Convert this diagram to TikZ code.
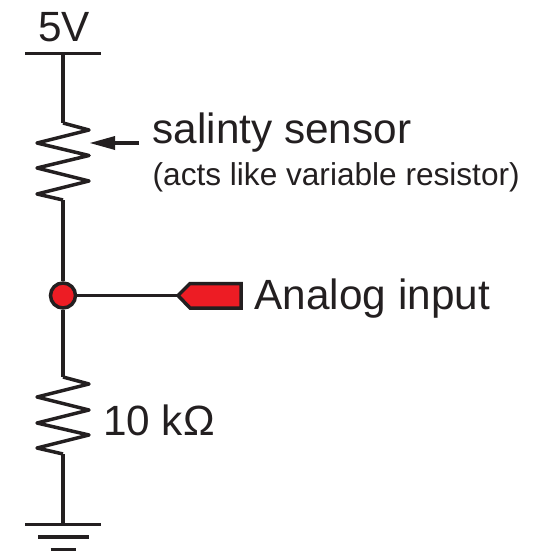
\documentclass[tikz,border=0pt]{standalone}
\usepackage{fontspec}
\setmainfont{Liberation Sans}
\usetikzlibrary{arrows.meta}
\definecolor{ink}{HTML}{231F20}
\definecolor{pinred}{HTML}{ED1C24}
\tikzset{
  wire/.style={draw=ink,line width=3.5pt,line cap=butt,line join=miter},
  zig/.style={draw=ink,line width=3.5pt,line cap=butt,line join=round},
  biglabel/.style={anchor=base west,inner sep=0pt,text=ink,font=\fontsize{42.3}{44}\selectfont},
  smalllabel/.style={anchor=base west,inner sep=0pt,text=ink,font=\fontsize{31.6}{34}\selectfont},
  junction/.style={circle,draw=ink,fill=pinred,line width=3.5pt,minimum size=25pt,inner sep=0pt},
}
\begin{document}
\begin{tikzpicture}[x=1pt,y=-1pt]
\useasboundingbox (0,0) rectangle (533,551);
\clip (0,0) rectangle (533,551);
% supply rail
\coordinate (railL) at (25,53.5);
\coordinate (railR) at (101,53.5);
\coordinate (railM) at (63,53.5);
\draw[wire] (railL) -- (railR);
\node[biglabel] (vcc) at (38,41.5) {5V};
% sensor resistor
\coordinate (r1top) at (63,123);
\coordinate (r1bot) at (63,200);
\draw[wire] (railM) -- (r1top);
\draw[zig] (r1top) -- (89,130) -- (37,143) -- (89,155.5) -- (37,168) -- (89,181) -- (37,194) -- (r1bot);
% sensor arrow
\coordinate (arrowTail) at (139,143);
\coordinate (arrowTip) at (90,143);
\draw[wire] (arrowTail) -- (112,143);
\fill[ink] (arrowTip) -- (115,136) -- (115,150) -- cycle;
\node[biglabel] (sensor) at (152.5,143) {salinty sensor};
\node[smalllabel] (note) at (152.5,185) {(acts like variable resistor)};
% junction and analog pin
\coordinate (pinTip) at (178,295.5);
\draw[wire,fill=pinred] (pinTip) -- (190,283.5) -- (241,283.5) -- (241,308) -- (190,308) -- cycle;
\node[junction] (jn) at (63,295.5) {};
\draw[wire] (r1bot) -- (jn);
\draw[wire] (jn) -- (pinTip);
\node[biglabel] (analog) at (254.5,309) {Analog input};
% 10k resistor
\coordinate (r2top) at (63,377);
\coordinate (r2bot) at (63,454);
\draw[wire] (jn) -- (r2top);
\draw[zig] (r2top) -- (89,384) -- (37,397) -- (89,410) -- (37,423) -- (89,435) -- (37,448) -- (r2bot);
\node[biglabel] (rval) at (103,435) {10 kΩ};
% ground
\coordinate (g1L) at (25,524.5);
\coordinate (g1R) at (101,524.5);
\coordinate (g1M) at (63,524.5);
\draw[wire] (r2bot) -- (g1M);
\draw[wire] (g1L) -- (g1R);
\coordinate (g2L) at (38,537);
\coordinate (g2R) at (88.5,537);
\draw[wire] (g2L) -- (g2R);
\coordinate (g3L) at (50.5,550);
\coordinate (g3R) at (76,550);
\draw[wire] (g3L) -- (g3R);
\end{tikzpicture}
\end{document}
